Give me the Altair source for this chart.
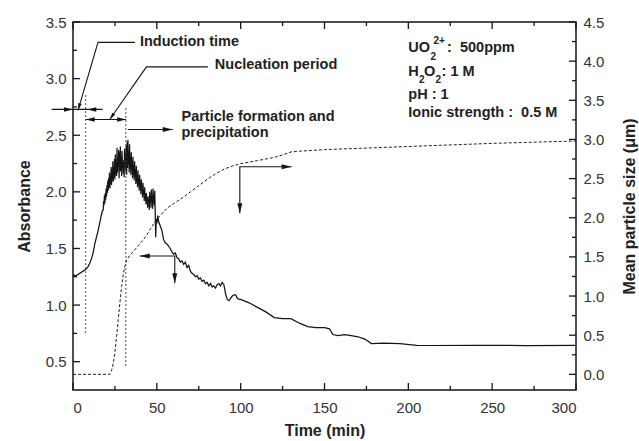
import altair as alt
import pandas as pd

W, H = 503, 368
FONT = "Liberation Sans"
NB = "\u00a0"

# ---------------- data ----------------
# Absorbance (left axis)
abs_t = [0, 1, 2, 3, 4, 5, 6, 7, 8, 9, 10, 11, 12, 13, 14, 15, 16, 17, 17.5,
         18.0, 18.25, 18.5, 18.75, 19.0, 19.25, 19.5, 19.75, 20.0, 20.25, 20.5, 20.75,
         21.0, 21.25, 21.5, 21.75, 22.0, 22.25, 22.5, 22.75, 23.0, 23.25, 23.5, 23.75,
         24.0, 24.25, 24.5, 24.75, 25.0, 25.25, 25.5, 25.75, 26.0, 26.25, 26.5, 26.75,
         27.0, 27.25, 27.5, 27.75, 28.0, 28.25, 28.5, 28.75, 29.0, 29.25, 29.5, 29.75,
         30.0, 30.25, 30.5, 30.75, 31.0, 31.25, 31.5, 31.75, 32.0, 32.25, 32.5, 32.75,
         33.0, 33.25, 33.5, 33.75, 34.0, 34.25, 34.5, 34.75, 35.0, 35.25, 35.5, 35.75,
         36.0, 36.25, 36.5, 36.75, 37.0, 37.25, 37.5, 37.75, 38.0, 38.25, 38.5, 38.75,
         39.0, 39.25, 39.5, 39.75, 40.0, 40.25, 40.5, 40.75, 41.0, 41.25, 41.5, 41.75,
         42.0, 42.25, 42.5, 42.75, 43.0, 43.25, 43.5, 43.75, 44.0, 44.25, 44.5, 44.75,
         45.0, 45.25, 45.5, 45.75, 46.0, 46.25, 46.5, 46.75, 47.0, 47.25, 47.5, 47.75,
         48.0, 48.25, 48.5, 48.75, 49.0, 49.3, 49.7, 50, 50.5, 51, 52, 53, 54, 55, 56, 57, 58,
         59, 60, 61, 62, 63, 64, 65, 66, 67, 68, 69, 70, 71, 72, 73, 74, 75, 76, 77,
         78, 79, 80, 81, 82, 83, 84, 85, 86, 87, 88, 89, 90, 91, 92, 93, 94, 95, 96,
         97, 98, 99, 100, 105, 110, 115, 120, 125, 130, 135, 140, 145, 150, 153, 155,
         158, 162, 166, 170, 174, 178, 185, 195, 205, 215, 240, 270, 300]
abs_v = [1.27, 1.26, 1.26, 1.27, 1.28, 1.29, 1.30, 1.31, 1.32, 1.34, 1.37, 1.41, 1.46, 1.54, 1.60, 1.66, 1.73, 1.80, 1.83,
         1.84, 1.92, 1.88, 1.97, 1.90, 1.99, 1.93, 2.03, 1.96, 2.06, 1.99, 2.10,
         2.01, 2.12, 2.04, 2.17, 2.03, 2.14, 2.07, 2.22, 2.06, 2.20, 2.10, 2.27,
         2.09, 2.22, 2.13, 2.29, 2.11, 2.33, 2.15, 2.26, 2.14, 2.39, 2.17, 2.30,
         2.22, 2.37, 2.12, 2.35, 2.19, 2.40, 2.18, 2.31, 2.14, 2.36, 2.21, 2.28,
         2.16, 2.26, 2.13, 2.38, 2.22, 2.34, 2.18, 2.41, 2.15, 2.44, 2.21, 2.46,
         2.24, 2.36, 2.17, 2.42, 2.20, 2.31, 2.15, 2.35, 2.19, 2.28, 2.12, 2.31,
         2.15, 2.24, 2.10, 2.27, 2.13, 2.20, 2.07, 2.23, 2.09, 2.16, 2.04, 2.19,
         2.06, 2.12, 2.01, 2.15, 2.04, 2.09, 1.98, 2.11, 2.01, 2.05, 1.95, 2.08,
         1.98, 2.01, 1.92, 2.04, 1.95, 1.97, 1.89, 1.99, 1.92, 1.93, 1.86, 1.96,
         1.89, 1.92, 1.84, 2.00, 1.91, 1.97, 1.86, 2.02, 1.92, 1.96, 1.85, 2.03,
         1.90, 1.98, 1.88, 2.01, 1.84, 1.60, 1.76, 1.72, 1.79, 1.74, 1.70, 1.66, 1.58, 1.55, 1.54, 1.52, 1.50,
         1.47, 1.45, 1.46, 1.42, 1.41, 1.38, 1.39, 1.36, 1.38, 1.33, 1.35, 1.30, 1.28, 1.27, 1.25, 1.26, 1.23, 1.24, 1.21,
         1.22, 1.19, 1.20, 1.17, 1.19, 1.16, 1.17, 1.15, 1.18, 1.19, 1.17, 1.20, 1.18, 1.10, 1.05, 1.04, 1.06, 1.08, 1.09,
         1.09, 1.06, 1.05, 1.05, 1.02, 0.98, 0.94, 0.89, 0.88, 0.88, 0.84, 0.81, 0.80, 0.80, 0.79, 0.74,
         0.73, 0.74, 0.73, 0.72, 0.70, 0.66, 0.665, 0.66, 0.645, 0.643, 0.645, 0.643, 0.645]

# Mean particle size (right axis)
size_t = [0, 22, 23, 24, 25, 26, 27, 28, 29, 30, 31, 32, 34, 36, 38, 40, 42, 44, 46, 48, 50,
          53, 56, 60, 65, 70, 75, 80, 85, 90, 95, 100, 110, 120, 126, 130, 135, 150, 200, 250, 300]
size_v = [0.0, 0.0, 0.05, 0.14, 0.28, 0.48, 0.70, 0.92, 1.12, 1.28, 1.39, 1.46, 1.52, 1.57, 1.62, 1.67,
          1.72, 1.78, 1.85, 1.92, 1.98, 2.05, 2.12, 2.18, 2.25, 2.33, 2.41, 2.49, 2.56, 2.62, 2.66,
          2.69, 2.73, 2.77, 2.81, 2.84, 2.85, 2.87, 2.91, 2.95, 2.98]

# tick values
x_major = [0, 50, 100, 150, 200, 250, 300]
x_minor = [25, 75, 125, 175, 225, 275]
left_major = [0.5, 1.0, 1.5, 2.0, 2.5, 3.0, 3.5]
left_minor = [0.75, 1.25, 1.75, 2.25, 2.75, 3.25]
right_major = [0.0, 0.5, 1.0, 1.5, 2.0, 2.5, 3.0, 3.5, 4.0, 4.5]
right_minor = [0.25, 0.75, 1.25, 1.75, 2.25, 2.75, 3.25, 3.75, 4.25]

# annotation polylines (time, absorbance units)
ann_g = ["ind", "ind", "ind", "nuc", "nuc", "nuc", "nd", "nd", "pf", "pf",
         "mid", "mid", "mid", "bot", "bot", "bot"]
ann_t = [36.9, 14.9, 3.0, 80.4, 43.8, 21.9, 7.6, 31.7, 32.7, 59.5,
         130.4, 99.5, 99.5, 39.8, 60.7, 60.7]
ann_a = [3.32, 3.32, 2.72, 3.104, 3.104, 2.639, 2.639, 2.639, 2.551, 2.551,
         2.221, 2.221, 1.81, 1.433, 1.433, 1.192]
ann_o = [0, 1, 2, 0, 1, 2, 0, 1, 0, 1, 0, 1, 2, 0, 1, 2]

# induction double arrow (extends left of the axis)
indd_t = [-12.7, 17.7]
indd_a = [2.728, 2.728]

# dotted vertical markers
dot_g = ["d1", "d1", "d2", "d2"]
dot_t = [7.5, 7.5, 31.5, 31.5]
dot_a = [2.854, 0.753, 2.739, 0.444]

# arrowheads
head_t = [3.0, 0.0, 8.5, 21.9, 7.6, 31.7, 59.5, 130.4, 99.5, 39.8, 60.7]
head_a = [2.72, 2.728, 2.728, 2.639, 2.639, 2.639, 2.551, 2.221, 1.81, 1.433, 1.192]
head_ang = [106, 0, 180, 125, 180, 0, 0, 0, 90, 180, 90]
head_sz = [49, 81, 81, 49, 81, 81, 100, 100, 100, 100, 100]

# texts
txt_label = ["Induction time", "Nucleation period", "Particle formation and", "precipitation",
             "UO", "2", "2+", ":" + NB + NB + "500ppm",
             "H", "2", "O", "2", ":" + NB + "1" + NB + "M",
             "pH : 1", "Ionic strength :" + NB + NB + "0.5 M"]
txt_t = [39.9, 84.6, 64.7, 64.7,
         200.0, 213.2, 215.0, 223.1,
         200.0, 206.3, 209.4, 216.2, 219.8,
         200.0, 200.0]
txt_a = [3.32, 3.117, 2.66, 2.519,
         3.269, 3.19, 3.33, 3.269,
         3.06, 2.99, 3.06, 2.99, 3.06,
         2.854, 2.698]
txt_fs = [14.5, 14.5, 14.5, 14.5,
          14.5, 10, 10, 14.5,
          14.5, 10, 14.5, 10, 14.5,
          14.5, 14.5]

# ---------------- scales / axes ----------------
xs = alt.Scale(domain=[0, 300], nice=False, zero=False)
ls = alt.Scale(domain=[0.25, 3.5], nice=False, zero=False)
rs = alt.Scale(domain=[-0.2, 4.5], nice=False, zero=False)

x_axis = alt.Axis(values=x_major, title="Time (min)", ticks=False, tickSize=0, domain=False,
                  grid=False, labelPadding=10, titlePadding=7, format="d")
l_axis = alt.Axis(values=left_major, title="Absorbance", ticks=False, tickSize=0, domain=False,
                  grid=False, labelPadding=7, titlePadding=13, format=".1f")
r_axis = alt.Axis(values=right_major, title="Mean particle size (\u03bcm)", orient="right",
                  ticks=False, tickSize=0, domain=False, grid=False, labelPadding=7,
                  titlePadding=18, format=".1f", titleAngle=270, titleBaseline="top")

X = lambda: alt.X("t:Q", scale=xs, axis=x_axis)
YL = lambda: alt.Y("a:Q", scale=ls, axis=l_axis)
YR = lambda: alt.Y("s:Q", scale=rs, axis=r_axis)

df_abs = pd.DataFrame({"t": abs_t, "a": abs_v})
df_size = pd.DataFrame({"t": size_t, "s": size_v})
df_ann = pd.DataFrame({"g": ann_g, "t": ann_t, "a": ann_a, "o": ann_o})
df_indd = pd.DataFrame({"t": indd_t, "a": indd_a})
df_dot = pd.DataFrame({"g": dot_g, "t": dot_t, "a": dot_a})
df_head = pd.DataFrame({"t": head_t, "a": head_a, "ang": head_ang, "sz": head_sz})
df_txt = pd.DataFrame({"label": txt_label, "t": txt_t, "a": txt_a, "fs": txt_fs})

INK = "#151515"

abs_line = alt.Chart(df_abs).mark_line(color=INK, strokeWidth=1.25).encode(x=X(), y=YL())

dots = alt.Chart(df_dot).mark_line(color="#444", strokeWidth=1.3, strokeDash=[1.5, 2.5]).encode(
    x=X(), y=YL(), detail="g:N")

ann = alt.Chart(df_ann).mark_line(color=INK, strokeWidth=1.1).encode(
    x=X(), y=YL(), detail="g:N", order="o:Q")

indd = alt.Chart(df_indd).mark_line(color=INK, strokeWidth=1.1, clip=False).encode(x=X(), y=YL())

ARROW = "M0,0L-2,-0.5L-2,0.5Z"
heads = alt.Chart(df_head).mark_point(shape=ARROW, filled=True, color=INK, opacity=1,
                                      strokeWidth=0, clip=False).encode(
    x=X(), y=YL(), angle=alt.Angle("ang:Q", scale=None), size=alt.Size("sz:Q", scale=None))

texts = alt.Chart(df_txt).mark_text(align="left", baseline="middle", font=FONT,
                                    fontWeight="bold", color="#222").encode(
    x=X(), y=YL(), text="label:N", size=alt.Size("fs:Q", scale=None))

# inward ticks
def xticks(vals, length, top):
    d = pd.DataFrame({"t": vals})
    y1, y2 = (0, length) if top else (H, H - length)
    return alt.Chart(d).mark_rule(color=INK, strokeWidth=1.3).encode(
        x=X(), y=alt.value(y1), y2=alt.value(y2))

def lticks(vals, length):
    d = pd.DataFrame({"a": vals})
    return alt.Chart(d).mark_rule(color=INK, strokeWidth=1.3).encode(
        y=YL(), x=alt.value(0), x2=alt.value(length))

def rticks(vals, length):
    d = pd.DataFrame({"s": vals})
    return alt.Chart(d).mark_rule(color=INK, strokeWidth=1.3).encode(
        y=YR(), x=alt.value(W - length), x2=alt.value(W))

left_group = alt.layer(
    abs_line, dots, ann, indd, heads, texts,
    xticks(x_major, 7, False), xticks(x_minor, 4, False),
    xticks(x_major, 7, True), xticks(x_minor, 4, True),
    lticks(left_major, 7), lticks(left_minor, 4),
)

size_line = alt.Chart(df_size).mark_line(color="#222", strokeWidth=1.0, strokeDash=[3, 2]).encode(
    x=X(), y=YR())

right_group = alt.layer(size_line, rticks(right_major, 7), rticks(right_minor, 4))

chart = alt.layer(left_group, right_group).resolve_scale(y="independent").properties(
    width=W, height=H,
    padding={"left": 73, "top": 22, "right": 63, "bottom": 51},
    autosize=alt.AutoSizeParams(type="none"),
).configure_view(stroke=INK, strokeWidth=1.5).configure_axis(
    labelFont=FONT, labelFontSize=15, labelColor="#333",
    titleFont=FONT, titleFontSize=16, titleFontWeight="bold", titleColor="#222",
)

chart.save("out.html", embed_options={"renderer": "svg", "actions": False})
